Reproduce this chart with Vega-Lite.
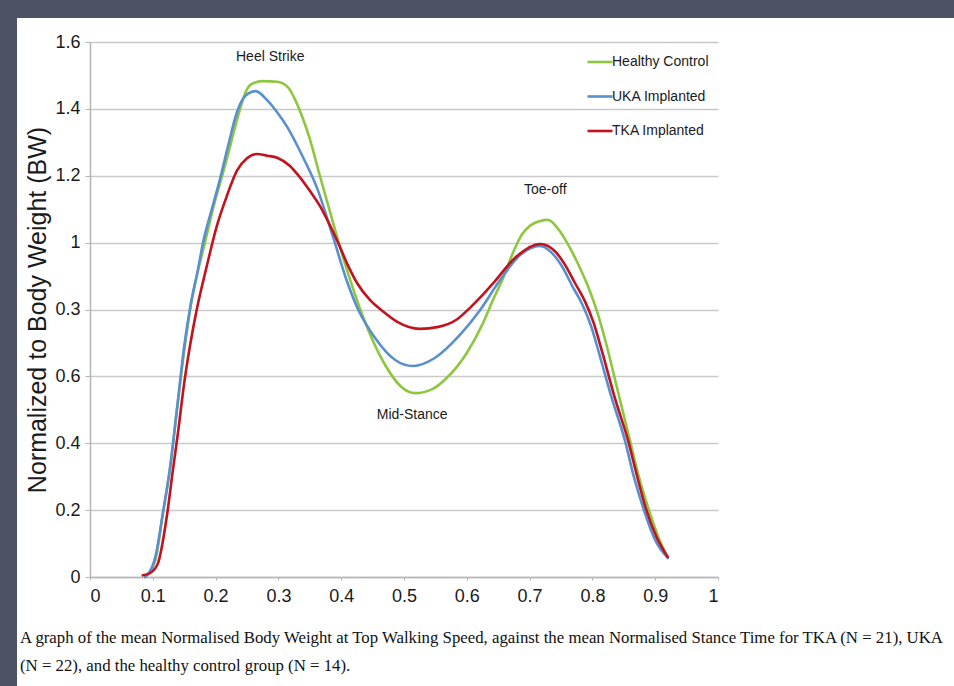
{
  "$schema": "https://vega.github.io/schema/vega-lite/v6.json",
  "width": 628,
  "height": 535,
  "autosize": {"type": "none"},
  "padding": {"left": 90, "top": 42, "right": 236, "bottom": 109},
  "background": "white",
  "config": {"view": {"stroke": null}, "font": "Liberation Sans"},
  "title": {
    "text": ["A graph of the mean Normalised Body Weight at Top Walking Speed, against the mean Normalised Stance Time for TKA (N = 21), UKA", "(N = 22), and the healthy control group (N = 14)."],
    "orient": "bottom",
    "anchor": "start",
    "frame": "group",
    "dx": -70,
    "offset": -56,
    "font": "Liberation Serif",
    "fontSize": 16.8,
    "fontWeight": "normal",
    "color": "#111111",
    "lineHeight": 28
  },
  "datasets": {
    "curves": [
      {"g": "Healthy Control", "t": 0.088, "bw": 0},
      {"g": "Healthy Control", "t": 0.104, "bw": 0.05},
      {"g": "Healthy Control", "t": 0.116, "bw": 0.19},
      {"g": "Healthy Control", "t": 0.127, "bw": 0.32},
      {"g": "Healthy Control", "t": 0.139, "bw": 0.51},
      {"g": "Healthy Control", "t": 0.151, "bw": 0.69},
      {"g": "Healthy Control", "t": 0.162, "bw": 0.83},
      {"g": "Healthy Control", "t": 0.175, "bw": 0.94},
      {"g": "Healthy Control", "t": 0.183, "bw": 1.0},
      {"g": "Healthy Control", "t": 0.197, "bw": 1.11},
      {"g": "Healthy Control", "t": 0.215, "bw": 1.23},
      {"g": "Healthy Control", "t": 0.239, "bw": 1.4},
      {"g": "Healthy Control", "t": 0.247, "bw": 1.447},
      {"g": "Healthy Control", "t": 0.257, "bw": 1.474},
      {"g": "Healthy Control", "t": 0.274, "bw": 1.483},
      {"g": "Healthy Control", "t": 0.298, "bw": 1.481},
      {"g": "Healthy Control", "t": 0.315, "bw": 1.465},
      {"g": "Healthy Control", "t": 0.333, "bw": 1.4},
      {"g": "Healthy Control", "t": 0.35, "bw": 1.31},
      {"g": "Healthy Control", "t": 0.366, "bw": 1.2},
      {"g": "Healthy Control", "t": 0.381, "bw": 1.1},
      {"g": "Healthy Control", "t": 0.396, "bw": 1.0},
      {"g": "Healthy Control", "t": 0.414, "bw": 0.89},
      {"g": "Healthy Control", "t": 0.435, "bw": 0.777},
      {"g": "Healthy Control", "t": 0.47, "bw": 0.634},
      {"g": "Healthy Control", "t": 0.495, "bw": 0.57},
      {"g": "Healthy Control", "t": 0.518, "bw": 0.55},
      {"g": "Healthy Control", "t": 0.545, "bw": 0.562},
      {"g": "Healthy Control", "t": 0.565, "bw": 0.59},
      {"g": "Healthy Control", "t": 0.6, "bw": 0.67},
      {"g": "Healthy Control", "t": 0.626, "bw": 0.76},
      {"g": "Healthy Control", "t": 0.642, "bw": 0.83},
      {"g": "Healthy Control", "t": 0.658, "bw": 0.895},
      {"g": "Healthy Control", "t": 0.674, "bw": 0.972},
      {"g": "Healthy Control", "t": 0.688, "bw": 1.025},
      {"g": "Healthy Control", "t": 0.7, "bw": 1.05},
      {"g": "Healthy Control", "t": 0.717, "bw": 1.065},
      {"g": "Healthy Control", "t": 0.729, "bw": 1.068},
      {"g": "Healthy Control", "t": 0.748, "bw": 1.035},
      {"g": "Healthy Control", "t": 0.764, "bw": 0.985},
      {"g": "Healthy Control", "t": 0.78, "bw": 0.925},
      {"g": "Healthy Control", "t": 0.795, "bw": 0.86},
      {"g": "Healthy Control", "t": 0.809, "bw": 0.785},
      {"g": "Healthy Control", "t": 0.823, "bw": 0.69},
      {"g": "Healthy Control", "t": 0.84, "bw": 0.56},
      {"g": "Healthy Control", "t": 0.86, "bw": 0.407},
      {"g": "Healthy Control", "t": 0.874, "bw": 0.3},
      {"g": "Healthy Control", "t": 0.889, "bw": 0.206},
      {"g": "Healthy Control", "t": 0.905, "bw": 0.12},
      {"g": "Healthy Control", "t": 0.92, "bw": 0.057},
      {"g": "UKA Implanted", "t": 0.088, "bw": 0},
      {"g": "UKA Implanted", "t": 0.104, "bw": 0.06},
      {"g": "UKA Implanted", "t": 0.116, "bw": 0.19},
      {"g": "UKA Implanted", "t": 0.127, "bw": 0.32},
      {"g": "UKA Implanted", "t": 0.139, "bw": 0.51},
      {"g": "UKA Implanted", "t": 0.15, "bw": 0.69},
      {"g": "UKA Implanted", "t": 0.159, "bw": 0.8},
      {"g": "UKA Implanted", "t": 0.172, "bw": 0.92},
      {"g": "UKA Implanted", "t": 0.18, "bw": 1.0},
      {"g": "UKA Implanted", "t": 0.194, "bw": 1.1},
      {"g": "UKA Implanted", "t": 0.207, "bw": 1.19},
      {"g": "UKA Implanted", "t": 0.22, "bw": 1.29},
      {"g": "UKA Implanted", "t": 0.234, "bw": 1.39},
      {"g": "UKA Implanted", "t": 0.248, "bw": 1.44},
      {"g": "UKA Implanted", "t": 0.264, "bw": 1.453},
      {"g": "UKA Implanted", "t": 0.282, "bw": 1.426},
      {"g": "UKA Implanted", "t": 0.298, "bw": 1.39},
      {"g": "UKA Implanted", "t": 0.314, "bw": 1.346},
      {"g": "UKA Implanted", "t": 0.339, "bw": 1.256},
      {"g": "UKA Implanted", "t": 0.361, "bw": 1.166},
      {"g": "UKA Implanted", "t": 0.387, "bw": 1.017},
      {"g": "UKA Implanted", "t": 0.41, "bw": 0.88},
      {"g": "UKA Implanted", "t": 0.427, "bw": 0.8},
      {"g": "UKA Implanted", "t": 0.454, "bw": 0.715},
      {"g": "UKA Implanted", "t": 0.486, "bw": 0.649},
      {"g": "UKA Implanted", "t": 0.514, "bw": 0.631},
      {"g": "UKA Implanted", "t": 0.549, "bw": 0.655},
      {"g": "UKA Implanted", "t": 0.589, "bw": 0.724},
      {"g": "UKA Implanted", "t": 0.621, "bw": 0.798},
      {"g": "UKA Implanted", "t": 0.653, "bw": 0.888},
      {"g": "UKA Implanted", "t": 0.685, "bw": 0.963},
      {"g": "UKA Implanted", "t": 0.717, "bw": 0.99},
      {"g": "UKA Implanted", "t": 0.735, "bw": 0.97},
      {"g": "UKA Implanted", "t": 0.752, "bw": 0.928},
      {"g": "UKA Implanted", "t": 0.768, "bw": 0.87},
      {"g": "UKA Implanted", "t": 0.784, "bw": 0.815},
      {"g": "UKA Implanted", "t": 0.798, "bw": 0.75},
      {"g": "UKA Implanted", "t": 0.812, "bw": 0.66},
      {"g": "UKA Implanted", "t": 0.83, "bw": 0.54},
      {"g": "UKA Implanted", "t": 0.852, "bw": 0.407},
      {"g": "UKA Implanted", "t": 0.866, "bw": 0.3},
      {"g": "UKA Implanted", "t": 0.881, "bw": 0.206},
      {"g": "UKA Implanted", "t": 0.9, "bw": 0.11},
      {"g": "UKA Implanted", "t": 0.92, "bw": 0.057},
      {"g": "TKA Implanted", "t": 0.084, "bw": 0.005},
      {"g": "TKA Implanted", "t": 0.096, "bw": 0.012},
      {"g": "TKA Implanted", "t": 0.108, "bw": 0.04},
      {"g": "TKA Implanted", "t": 0.123, "bw": 0.19},
      {"g": "TKA Implanted", "t": 0.132, "bw": 0.32},
      {"g": "TKA Implanted", "t": 0.14, "bw": 0.43},
      {"g": "TKA Implanted", "t": 0.15, "bw": 0.58},
      {"g": "TKA Implanted", "t": 0.16, "bw": 0.7},
      {"g": "TKA Implanted", "t": 0.17, "bw": 0.8},
      {"g": "TKA Implanted", "t": 0.186, "bw": 0.93},
      {"g": "TKA Implanted", "t": 0.202, "bw": 1.05},
      {"g": "TKA Implanted", "t": 0.218, "bw": 1.14},
      {"g": "TKA Implanted", "t": 0.234, "bw": 1.215},
      {"g": "TKA Implanted", "t": 0.25, "bw": 1.252},
      {"g": "TKA Implanted", "t": 0.266, "bw": 1.265},
      {"g": "TKA Implanted", "t": 0.282, "bw": 1.26},
      {"g": "TKA Implanted", "t": 0.298, "bw": 1.254},
      {"g": "TKA Implanted", "t": 0.318, "bw": 1.23},
      {"g": "TKA Implanted", "t": 0.334, "bw": 1.196},
      {"g": "TKA Implanted", "t": 0.35, "bw": 1.155},
      {"g": "TKA Implanted", "t": 0.366, "bw": 1.11},
      {"g": "TKA Implanted", "t": 0.38, "bw": 1.06},
      {"g": "TKA Implanted", "t": 0.395, "bw": 1.0},
      {"g": "TKA Implanted", "t": 0.41, "bw": 0.935},
      {"g": "TKA Implanted", "t": 0.425, "bw": 0.88},
      {"g": "TKA Implanted", "t": 0.445, "bw": 0.83},
      {"g": "TKA Implanted", "t": 0.466, "bw": 0.795},
      {"g": "TKA Implanted", "t": 0.49, "bw": 0.762},
      {"g": "TKA Implanted", "t": 0.525, "bw": 0.742},
      {"g": "TKA Implanted", "t": 0.555, "bw": 0.748},
      {"g": "TKA Implanted", "t": 0.584, "bw": 0.77},
      {"g": "TKA Implanted", "t": 0.605, "bw": 0.805},
      {"g": "TKA Implanted", "t": 0.626, "bw": 0.845},
      {"g": "TKA Implanted", "t": 0.645, "bw": 0.885},
      {"g": "TKA Implanted", "t": 0.677, "bw": 0.955},
      {"g": "TKA Implanted", "t": 0.717, "bw": 0.996},
      {"g": "TKA Implanted", "t": 0.74, "bw": 0.975},
      {"g": "TKA Implanted", "t": 0.756, "bw": 0.935},
      {"g": "TKA Implanted", "t": 0.772, "bw": 0.88},
      {"g": "TKA Implanted", "t": 0.788, "bw": 0.825},
      {"g": "TKA Implanted", "t": 0.802, "bw": 0.76},
      {"g": "TKA Implanted", "t": 0.816, "bw": 0.67},
      {"g": "TKA Implanted", "t": 0.835, "bw": 0.54},
      {"g": "TKA Implanted", "t": 0.857, "bw": 0.407},
      {"g": "TKA Implanted", "t": 0.87, "bw": 0.31},
      {"g": "TKA Implanted", "t": 0.885, "bw": 0.206},
      {"g": "TKA Implanted", "t": 0.902, "bw": 0.12},
      {"g": "TKA Implanted", "t": 0.92, "bw": 0.06}
    ],
    "notes": [
      {"label": "Heel Strike", "t": 0.287, "bw": 1.555},
      {"label": "Toe-off", "t": 0.725, "bw": 1.157},
      {"label": "Mid-Stance", "t": 0.513, "bw": 0.484}
    ]
  },
  "layer": [
    {
      "data": {"values": [{}]},
      "mark": {"type": "rect", "color": "#4e5364", "clip": false},
      "encoding": {
        "x": {"datum": -0.3, "type": "quantitative", "scale": {"domain": [0, 1], "nice": false}, "title": "x"},
        "x2": {"datum": -0.1162},
        "y": {"datum": -0.327, "type": "quantitative", "scale": {"domain": [0, 1.6], "nice": false}, "title": "Normalized to Body Weight (BW)"},
        "y2": {"datum": 2.0}
      }
    },
    {
      "data": {"values": [{}]},
      "mark": {"type": "rect", "color": "#4e5364", "clip": false},
      "encoding": {
        "x": {"datum": -0.3, "type": "quantitative", "scale": {"domain": [0, 1], "nice": false}, "title": "x"},
        "x2": {"datum": 1.6},
        "y": {"datum": 1.6718, "type": "quantitative", "scale": {"domain": [0, 1.6], "nice": false}, "title": "Normalized to Body Weight (BW)"},
        "y2": {"datum": 2.0}
      }
    },
    {
      "data": {"name": "curves"},
      "mark": {"type": "line", "interpolate": "monotone", "strokeWidth": 2.6, "strokeCap": "round"},
      "encoding": {
        "x": {
          "field": "t", "type": "quantitative", "title": "x",
          "scale": {"domain": [0, 1], "nice": false},
          "axis": {
            "title": null, "values": [0, 0.1, 0.2, 0.3, 0.4, 0.5, 0.6, 0.7, 0.8, 0.9, 1], "format": "~g",
            "grid": false, "domainColor": "#b5b5b5", "domainWidth": 1.5, "tickColor": "#b5b5b5", "tickSize": 3,
            "labelFontSize": 18, "labelColor": "#1a1a1a", "labelPadding": 7, "labelFont": "Liberation Sans"
          }
        },
        "y": {
          "field": "bw", "type": "quantitative", "title": "Normalized to Body Weight (BW)",
          "scale": {"domain": [0, 1.6], "nice": false},
          "axis": {
            "values": [0, 0.2, 0.4, 0.6, 0.8, 1, 1.2, 1.4, 1.6], "format": "~g",
            "labelExpr": "datum.value == 0.8 ? '0.3' : datum.label",
            "grid": true, "gridColor": "#c9c9c9", "gridWidth": 1.5,
            "domainColor": "#b5b5b5", "domainWidth": 1.5, "tickColor": "#b5b5b5", "tickSize": 5,
            "labelFontSize": 18, "labelColor": "#1a1a1a", "labelPadding": 5, "labelFont": "Liberation Sans",
            "titleFontSize": 25, "titleFontWeight": "normal", "titleColor": "#1a1a1a", "titleFont": "Liberation Sans", "titlePadding": 4
          }
        },
        "color": {
          "field": "g", "type": "nominal",
          "scale": {"domain": ["Healthy Control", "UKA Implanted", "TKA Implanted"], "range": ["#8dc63f", "#5a8fcf", "#c2131d"]},
          "legend": {
            "title": null, "orient": "none", "legendX": 496, "legendY": 6,
            "symbolType": "stroke", "symbolSize": 625, "symbolStrokeWidth": 2.6,
            "labelFontSize": 14, "labelColor": "#1a1a1a", "labelOffset": -2, "rowPadding": 13.5, "labelFont": "Liberation Sans"
          }
        },
        "order": {"field": "t", "type": "quantitative"}
      }
    },
    {
      "data": {"name": "notes"},
      "mark": {"type": "text", "fontSize": 14, "color": "#1a1a1a", "align": "center", "baseline": "middle", "font": "Liberation Sans"},
      "encoding": {
        "x": {"field": "t", "type": "quantitative", "title": "x", "scale": {"domain": [0, 1], "nice": false}},
        "y": {"field": "bw", "type": "quantitative", "title": "Normalized to Body Weight (BW)", "scale": {"domain": [0, 1.6], "nice": false}},
        "text": {"field": "label"}
      }
    }
  ]
}
